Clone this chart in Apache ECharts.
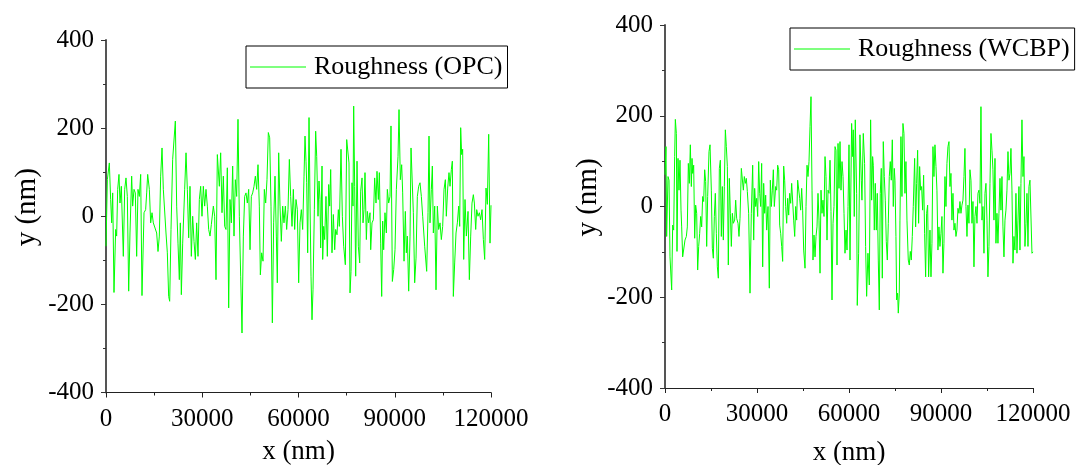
<!DOCTYPE html>
<html>
<head>
<meta charset="utf-8">
<script src="https://cdn.jsdelivr.net/npm/echarts@6/dist/echarts.min.js"></script>
<style>
html,body{margin:0;padding:0;background:#fff;}
#chart{width:1076px;height:465px;}
</style>
</head>
<body>
<div id="chart"></div>
<script>
// ---- data (x in nm, y in nm) ----
const xTickValues = [0, 30000, 60000, 90000, 120000];
const yTickValues = [-400, -200, 0, 200, 400];
const seriesNames = ['Roughness (OPC)', 'Roughness (WCBP)'];

const opcRoughness = [
[0,-68],[420,83],[1040,121],[1450,38],[1770,-15],[2080,53],[2490,-173],[3010,-30],[3320,-45],[3640,61],[4050,95],[4360,30],[4780,68],[5400,-91],[5820,61],[6230,87],[6650,45],[7070,-170],[7480,-38],[8000,91],[8310,23],[8730,61],[9140,53],[9560,-91],[9970,61],[10390,45],[10810,95],[11220,-180],[11850,8],[12360,15],[12680,53],[12990,95],[13510,61],[13920,-15],[14340,8],[14750,-15],[15270,-11],[15790,-38],[16210,-80],[16620,-45],[17040,91],[17460,155],[17870,61],[18290,61],[18700,-38],[19120,-83],[19530,-182],[19850,-193],[20260,-30],[20780,129],[21200,133],[21610,216],[22030,23],[22440,-61],[22860,-144],[23170,-15],[23480,-178],[23900,-61],[24520,61],[24940,144],[25350,61],[25770,-49],[26180,68],[26600,-91],[27010,0],[27430,-57],[27850,-98],[28260,-15],[28680,-91],[29090,38],[29510,68],[29920,0],[30340,68],[30750,23],[31170,61],[31590,23],[32000,-30],[32420,-45],[32830,-19],[33460,23],[33870,0],[34290,-144],[34700,140],[35120,144],[35330,68],[35740,144],[36160,8],[36570,91],[36990,-23],[37400,-30],[37820,110],[38240,-208],[38650,38],[39070,-15],[39480,114],[39900,-45],[40310,83],[40730,45],[41140,220],[41560,0],[41980,-136],[42390,-265],[42810,-45],[43220,45],[43640,53],[44050,30],[44470,61],[44890,-76],[45300,45],[45720,53],[46130,68],[46550,91],[46960,61],[47380,117],[47790,23],[48110,-133],[48520,-83],[48940,-102],[49350,61],[49770,30],[50180,83],[50600,190],[51020,178],[51430,23],[51850,-242],[52260,-15],[52680,91],[53090,-45],[53400,-151],[53820,144],[54240,23],[54650,-57],[55070,23],[55480,-15],[55900,23],[56310,-30],[56730,15],[57150,129],[57560,45],[57980,-23],[58390,61],[58810,-30],[59220,38],[59640,15],[60050,-151],[60470,-15],
[60890,15],[61300,-30],[61720,91],[62030,182],[62340,125],[62550,76],[62860,-83],[63280,224],[63590,30],[63900,-136],[64210,-235],[64520,-167],[64940,15],[65350,193],[65670,136],[66080,0],[66390,80],[66700,38],[66910,-72],[67330,114],[67540,-98],[67850,-23],[68160,-53],[68570,45],[68990,-91],[69410,72],[69720,23],[70030,106],[70440,-83],[70860,4],[71280,-76],[71590,-30],[72000,-42],[72420,15],[72730,-23],[73250,152],[73670,0],[74080,-68],[74600,-110],[75020,174],[75430,178],[75740,121],[76060,-174],[76370,-125],[76680,76],[76990,23],[77200,250],[77510,68],[77820,-136],[78240,125],[78650,-68],[79070,-106],[79380,57],[79800,87],[80110,-15],[80420,15],[80730,99],[81150,-53],[81460,11],[81870,-15],[82290,8],[82500,-76],[82910,-15],[83330,-8],[83740,87],[84160,30],[84470,102],[84890,38],[85200,99],[85610,-61],[85930,-182],[86240,-11],[86550,-76],[86960,8],[87380,-38],[87690,61],[88110,30],[88520,45],[88830,205],[89250,-148],[89670,-121],[90080,-76],[90500,61],[91020,136],[91330,242],[91740,83],[92160,117],[92470,53],[92890,-102],[93300,11],[93610,-83],[93930,-45],[94340,-170],[94760,-45],[95070,155],[95480,152],[95800,8],[96210,-151],[96630,-95],[97040,45],[97460,68],[97870,76],[98290,45],[98710,0],[99330,-68],[99950,-125],[100370,8],[100680,182],[100990,-15],[101410,61],[101720,114],[102030,-38],[102450,23],[102860,-167],[103280,23],[103690,-30],[104110,-15],[104520,-53],[104940,-23],[105360,61],[105770,83],[106080,0],[106500,64],[106910,99],[107230,68],[107640,106],[107950,125],[108260,-182],[108680,-106],[109100,-38],[109510,-15],[109930,23],[110240,-23],[110550,201],[110860,140],[111170,152],[111490,-98],[111900,38],[112320,-45],[112840,11],[113250,-144],[113670,-45],[114080,30],[114500,49],[114810,30],[115230,-30],[115540,15],[115950,0],[116370,8],[116780,-8],[117200,15],[117620,-53],[118030,-98],[118450,64],[118860,27],[119280,186],[119690,-61],[120000,25]
];

const wcbpRoughness = [
[0,70],[330,132],[540,-66],[980,66],[1310,58],[1630,-111],[2180,-184],[2500,-41],[2830,-52],[3150,110],[3370,192],[3700,161],[3910,-99],[4240,106],[4570,36],[4890,102],[5220,-8],[5440,-45],[5760,-111],[6200,-114],[6520,-74],[6960,-66],[7280,-45],[7610,95],[7940,51],[8260,136],[8590,44],[8810,106],[9020,73],[9350,91],[9680,-70],[10000,3],[10330,-15],[10650,-140],[10980,-88],[11310,-59],[11630,-22],[11960,-45],[12280,22],[12610,11],[12940,81],[13260,55],[13590,-88],[13910,22],[14350,121],[14680,136],[15110,36],[15440,-92],[15760,-114],[16090,-22],[16410,29],[16740,-59],[17070,-133],[17390,-158],[17720,84],[18050,102],[18370,-66],[18700,44],[19020,-74],[19350,44],[19680,169],[20000,132],[20330,88],[20650,-129],[20980,62],[21310,-15],[21630,-88],[21960,-15],[22280,-37],[22720,-30],[23050,14],[23370,-26],[23810,-37],[24130,-66],[24460,-26],[24890,84],[25220,81],[25550,36],[25870,66],[26200,51],[26520,62],[26850,33],[27280,-15],[27720,-191],[28150,-15],[28590,91],[28920,-74],[29240,40],[29570,0],[29890,18],[30220,-22],[30550,99],[30870,29],[31200,0],[31520,95],[31850,-133],[32180,51],[32500,-15],[32830,25],[33150,-52],[33590,0],[34020,-180],[34350,58],[34680,0],[35000,36],[35330,81],[35650,0],[36090,44],[36420,36],[36740,91],[37070,81],[37390,-41],[37720,-59],[38050,-88],[38370,-121],[38700,89],[39020,58],[39350,0],[39680,-37],[40000,18],[40330,-19],[40650,29],[40980,7],[41310,51],[41630,55],[41960,-30],[42290,-66],[42610,0],[42940,-30],[43260,58],[43590,58],[43920,18],[44240,-8],[44570,40],[44890,-8],[45220,-96],[45660,-136],[45980,0],[46310,91],[46630,66],[46960,99],[47290,176],[47610,242],[47940,36],[48260,-118],[48590,-63],[48920,-111],[49240,-66],[49570,-45],[49890,29],[50220,-30],[50550,-147],[50870,36],[51200,-15],[51520,14],[51850,-22],[52180,110],[52500,66],[52830,-74],[53160,36],[53480,29],[53810,102],[54130,-11],[54460,-206],[54790,-37],[55110,0],[55440,132],[55760,124],[56090,-129],[56420,139],[56740,40],[57070,143],[57390,36],[57720,99],[58050,66],[58370,-15],[58700,-103],[59030,-52],[59350,-96],[59680,0],[60000,136],[60330,-118],
[60860,183],[61180,110],[61400,169],[61720,-22],[62050,191],[62490,29],[62700,-218],[63140,-103],[63570,158],[64010,58],[64220,14],[64660,161],[65090,95],[65420,-88],[65750,-198],[66180,-103],[66620,-173],[67050,191],[67380,14],[67700,110],[67920,91],[68250,-52],[68570,51],[68900,-52],[69220,29],[69550,-118],[69880,-228],[70200,29],[70530,84],[70860,-158],[71180,143],[71510,66],[71830,14],[72160,-77],[72490,-118],[72810,-37],[73140,66],[73460,99],[73790,58],[74120,147],[74440,0],[74770,84],[74990,58],[75310,-66],[75530,-206],[75860,-191],[76070,-235],[76400,-191],[76620,-30],[76940,154],[77270,22],[77590,183],[77920,161],[78250,29],[78570,99],[78900,-30],[79330,-118],[79660,-129],[79990,-99],[80310,-118],[80640,-66],[80960,0],[81400,106],[81730,-45],[82050,51],[82380,124],[82700,-37],[83030,88],[83360,36],[83680,44],[84010,-8],[84330,69],[84660,-59],[84990,-155],[85310,-15],[85640,3],[85960,-155],[86400,-52],[86730,-155],[87050,-81],[87380,132],[87700,66],[88030,136],[88360,88],[88680,36],[89010,-96],[89330,-45],[89660,-88],[89990,-59],[90310,-22],[90640,-147],[90960,-81],[91290,66],[91620,0],[91940,95],[92270,132],[92600,143],[92920,44],[93250,73],[93570,-30],[93900,29],[94230,-52],[94550,-37],[94880,-66],[95200,-52],[95530,-4],[95860,-15],[96180,11],[96510,-15],[96830,3],[97160,14],[97490,66],[97810,128],[98140,0],[98470,-66],[98790,3],[99120,-37],[99440,81],[99770,58],[100100,-37],[100420,11],[100750,-133],[101070,-22],[101400,0],[101730,-37],[102050,29],[102380,36],[102700,7],[103030,220],[103360,-30],[103680,0],[104010,-103],[104340,29],[104660,51],[104990,-30],[105310,-155],[105640,-88],[105970,51],[106290,161],[106620,124],[106940,81],[107270,-30],[107600,106],[107920,-81],[108250,-15],[108570,-81],[108900,-15],[109230,62],[109550,-8],[109880,66],[110200,-45],[110530,-111],[110860,-30],[111180,-8],[111510,36],[111840,121],[112160,58],[112490,73],[112810,128],[113140,36],[113470,-125],[113790,-66],[114120,-96],[114440,29],[114770,-103],[115100,-30],[115420,44],[115750,-96],[116070,51],[116400,191],[116730,66],[117050,110],[117380,-88],[117710,-37],[118030,29],[118360,-88],[118680,44],[119010,58],[119340,58],[119660,-103],[120000,-100]
];

// ---- chart ----
const FONT = 'Liberation Serif';
const GREEN = '#00ff00';
const plain = v => String(v);

function xAxisCfg(gridIndex, nameGap) {
  return {
    gridIndex, type: 'value',
    min: xTickValues[0], max: xTickValues[xTickValues.length - 1],
    interval: xTickValues[1] - xTickValues[0],
    name: 'x (nm)', nameLocation: 'middle', nameGap,
    nameTextStyle: { fontFamily: FONT, fontSize: 27, color: '#000' },
    axisLine: { show: true, onZero: false, lineStyle: { color: '#222', width: 1 } },
    axisTick: { show: true, inside: false, length: 5, lineStyle: { color: '#222', width: 1 } },
    minorTick: { show: true, splitNumber: 2, length: 3, lineStyle: { color: '#222', width: 1 } },
    splitLine: { show: false },
    axisLabel: { fontFamily: FONT, fontSize: 25, color: '#000', margin: 14, formatter: plain, showMinLabel: true, showMaxLabel: true }
  };
}
function yAxisCfg(gridIndex, nameGap) {
  return {
    gridIndex, type: 'value',
    min: yTickValues[0], max: yTickValues[yTickValues.length - 1],
    interval: yTickValues[1] - yTickValues[0],
    name: 'y (nm)', nameLocation: 'middle', nameGap,
    nameTextStyle: { fontFamily: FONT, fontSize: 29, color: '#000', padding: [0, 0, 0, 18] },
    axisLine: { show: true, onZero: false, lineStyle: { color: '#555', width: 2 } },
    axisTick: { show: true, inside: false, length: 5, lineStyle: { color: '#333', width: 1 } },
    minorTick: { show: true, splitNumber: 2, length: 3, lineStyle: { color: '#333', width: 1 } },
    splitLine: { show: false },
    axisLabel: { fontFamily: FONT, fontSize: 25, color: '#000', margin: 12, formatter: plain, showMinLabel: true, showMaxLabel: true }
  };
}
function legendCfg(name, left, top) {
  return {
    data: [name], left, top, orient: 'horizontal',
    icon: 'rect', itemWidth: 56, itemHeight: 1.2,
    borderColor: '#000', borderWidth: 1, borderRadius: 0,
    padding: [7, 5, 7, 4],
    textStyle: { fontFamily: FONT, fontSize: 26, color: '#000', lineHeight: 28, padding: [0, 0, 0, 3] },
    selectedMode: false
  };
}

const chart = echarts.init(document.getElementById('chart'), null, { renderer: 'canvas' });
chart.setOption({
  backgroundColor: '#fff',
  animation: false,
  grid: [
    { left: 106, top: 40, width: 385, height: 352.5, containLabel: false, outerBoundsMode: 'none' },
    { left: 665, top: 25, width: 368, height: 363, containLabel: false, outerBoundsMode: 'none' }
  ],
  legend: [
    legendCfg(seriesNames[0], 246, 46),
    legendCfg(seriesNames[1], 790, 28)
  ],
  xAxis: [xAxisCfg(0, 46), xAxisCfg(1, 51)],
  yAxis: [yAxisCfg(0, 64), yAxisCfg(1, 62)],
  series: [
    { name: seriesNames[0], type: 'line', xAxisIndex: 0, yAxisIndex: 0, data: opcRoughness,
      showSymbol: false, symbol: 'none', lineStyle: { color: GREEN, width: 1 }, itemStyle: { color: GREEN } },
    { name: seriesNames[1], type: 'line', xAxisIndex: 1, yAxisIndex: 1, data: wcbpRoughness,
      showSymbol: false, symbol: 'none', lineStyle: { color: GREEN, width: 1 }, itemStyle: { color: GREEN } }
  ]
});
</script>
</body>
</html>
